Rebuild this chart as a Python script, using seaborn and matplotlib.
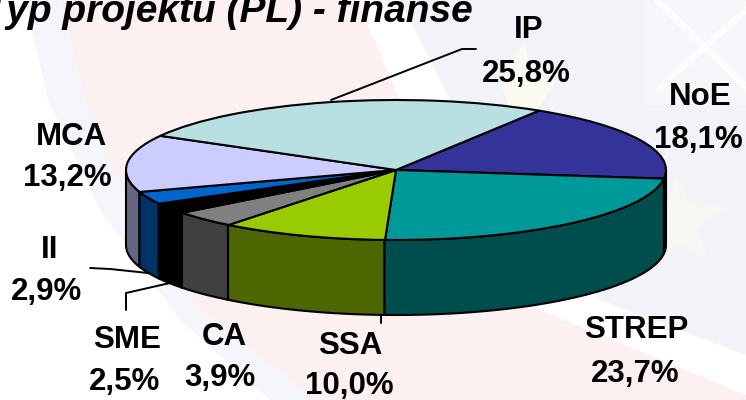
import numpy as np
import matplotlib
matplotlib.use("Agg")
import matplotlib.pyplot as plt
import seaborn as sns

# slices, clockwise from the top right edge of IP
labels = ["NoE", "STREP", "SSA", "CA", "SME", "II", "MCA", "IP"]
shares = [18.1, 23.7, 10.0, 3.9, 2.5, 2.9, 13.2, 25.8]
top_colors = ["#333399", "#009999", "#99CC00", "#808080", "#000000", "#0066CC", "#CCCCFF", "#B8E0E2"]
side_colors = ["#1A1A4D", "#004D4D", "#4D6600", "#404040", "#000000", "#003366", "#666680", "#5C7071"]
title = "Typ projektu (PL) - finanse"

W, H = 746, 400
CX, CY, RX, RY, DEPTH = 396, 170, 270, 70, 75
START = 58.0

sns.set_theme(style="white")
plt.rcParams["font.family"] = ["Liberation Sans", "DejaVu Sans"]

fig = plt.figure(figsize=(W / 100, H / 100), dpi=100, facecolor="white")

# pixel axes for the washed out background, texts and leader lines
back = fig.add_axes([0, 0, 1, 1])
back.set_xlim(0, W)
back.set_ylim(H, 0)
back.axis("off")
# pink stripe, pale blue stripe on its left, blue field on the right
back.fill([60, 357, 400, 540, 746, 746, 315, 200, 135, 85], [0, 0, 100, 310, 395, 400, 400, 310, 220, 100],
          color="#FDF0F0", lw=0)
back.fill([25, 60, 85, 135, 200, 315, 270, 180, 100, 48], [0, 0, 100, 220, 310, 400, 400, 320, 210, 100],
          color="#F5F6FB", lw=0)
back.fill([400, 746, 746, 600, 450], [0, 0, 355, 300, 100], color="#F2F3F9", lw=0)
# flag detail top right and the faint stars
back.fill([645, 746, 746, 645], [0, 0, 105, 105], color="#F6F7FB", lw=0)
back.plot([657, 746], [0, 87], color="white", lw=5, zorder=1.5, alpha=0.7)
back.plot([746, 660], [10, 87], color="white", lw=5, zorder=1.5, alpha=0.7)
back.fill([677, 688, 727, 700, 707, 680, 655, 660, 640, 668], [173, 200, 207, 228, 260, 245, 262, 230, 212, 203],
          color="#F6F6F3", lw=0)
back.fill([524, 533, 556, 538, 510, 500], [43, 75, 82, 108, 108, 82], color="#FBFAF1", lw=0)

# pie axes, one data unit is the ellipse radius
ax = fig.add_axes([0, 0, 1, 1])
ax.patch.set_alpha(0)
edge = {"edgecolor": "black", "linewidth": 1.5}
palette = sns.color_palette(top_colors)
ax.pie(shares, colors=palette, startangle=START, counterclock=False, radius=1, wedgeprops=edge)
ax.set_aspect("auto")
ax.set_xlim(-CX / RX, (W - CX) / RX)
ax.set_ylim((CY - H) / RY, CY / RY)
ax.axis("off")

# side wall, only the front half of the rim shows
depth = DEPTH / RY
ends = START - np.cumsum(shares) * 3.6
begins = np.r_[START, ends[:-1]]
for a, b, c in zip(begins, ends, side_colors):
    lo, hi = max(b, -180), min(a, 0)
    if lo >= hi:
        continue
    t = np.radians(np.linspace(hi, lo, 60))
    xs = np.r_[np.cos(t), np.cos(t)[::-1]]
    ys = np.r_[np.sin(t), np.sin(t)[::-1] - depth]
    ax.fill(xs, ys, facecolor=c, **edge, zorder=0.5)

# leaders
for xs, ys in [([331, 462, 476], [100, 49, 49]),
               ([90, 110, 148], [268, 269, 273]),
               ([126, 126, 170], [310, 293, 283]),
               ([381, 381], [315, 323])]:
    back.plot(xs, ys, color="black", lw=1.4, zorder=2)

# name baseline and percent baseline for each label
label_pos = {"NoE": (700, 105, 698, 148), "STREP": (636, 338, 635, 382), "SSA": (350, 354, 349, 394),
             "CA": (224, 345, 220, 386), "SME": (127, 348, 125, 390), "II": (50, 258, 47, 300),
             "MCA": (71, 145, 67, 186), "IP": (529, 38, 526, 82)}
for name, val in zip(labels, shares):
    x1, y1, x2, y2 = label_pos[name]
    back.text(x1, y1, name, ha="center", va="baseline", fontsize=22.5, fontweight="bold", color="black")
    back.text(x2, y2, f"{val:.1f}%".replace(".", ","), ha="center", va="baseline", fontsize=22.5,
              fontweight="bold", color="black")

back.text(-16, 22, title, ha="left", va="baseline", fontsize=28, fontweight="bold", fontstyle="italic", color="black")

fig.savefig("out.png", dpi=100)
